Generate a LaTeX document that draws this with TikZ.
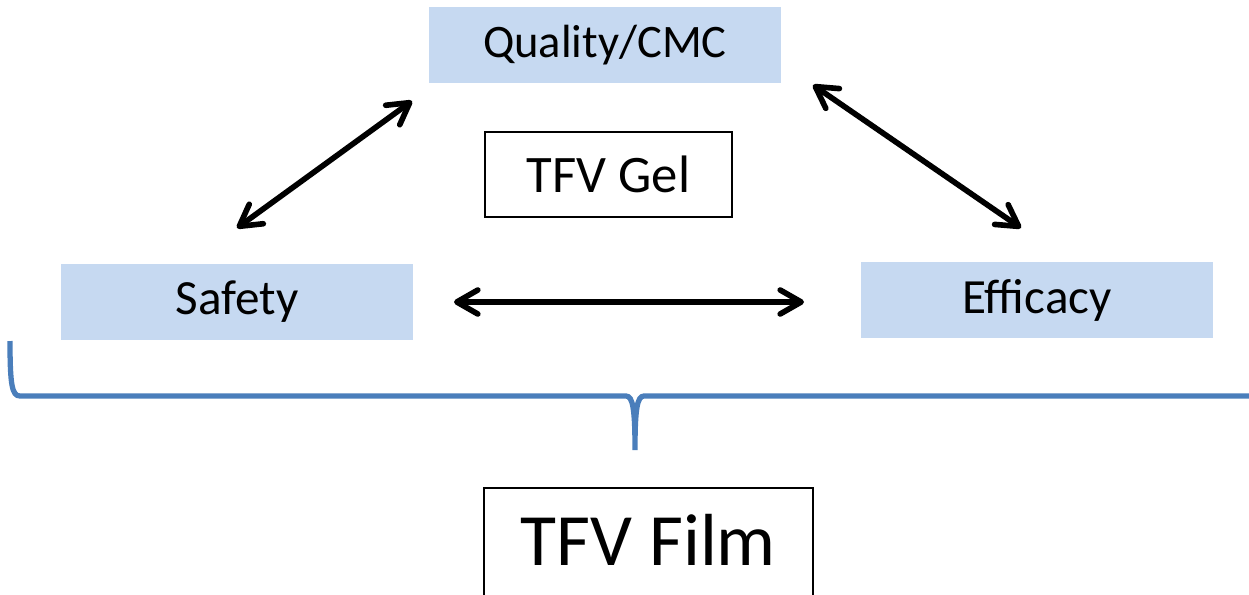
\documentclass[tikz,border=0pt]{standalone}
\usepackage{fontspec}
\setmainfont{Carlito}
\usetikzlibrary{arrows.meta}
\definecolor{boxblue}{RGB}{198,217,241}
\definecolor{braceblue}{RGB}{74,126,187}

\begin{document}
\begin{tikzpicture}[x=0.02cm,y=-0.02cm,
    area/.style={fill=boxblue,minimum width=7.04cm,minimum height=1.54cm,inner sep=0pt},
    form/.style={draw,line width=1.1pt,inner sep=0pt},
    link/.style={{Straight Barb[round,length=0.42cm,width=0.48cm]}-{Straight Barb[round,length=0.42cm,width=0.48cm]},
      line width=3.2pt,line cap=round}]
  \useasboundingbox (0,0) rectangle (1249,595);
  \clip (0,0) rectangle (1249,595);
  \node[area,font=\fontsize{26.5}{30}\selectfont] (quality) at (605,45) {Quality/CMC};
  \node[area,font=\fontsize{28}{32}\selectfont] (safety) at (237,302) {Safety};
  \node[area,font=\fontsize{28}{32}\selectfont] (efficacy) at (1037,300) {Efficacy};
  \node[form,minimum width=4.94cm,minimum height=1.7cm,font=\fontsize{30}{34}\selectfont] (gel) at (608.5,174.5) {TFV Gel};
  \node[form,anchor=north,minimum width=6.58cm,minimum height=2.46cm,text height=1.04cm,text depth=0.38cm,
    font=\fontsize{42}{48}\selectfont] (film) at (648.5,487) {TFV Film};
  % ends of the arrows
  \coordinate (sq1) at (237,228);
  \coordinate (sq2) at (412,101);
  \coordinate (qe1) at (813,85);
  \coordinate (qe2) at (1021,228);
  \coordinate (se1) at (454,302);
  \coordinate (se2) at (804,302);
  \draw[link] (sq1) -- (sq2);
  \draw[link] (qe1) -- (qe2);
  \draw[link] (se1) -- (se2);
  % brace
  \draw[braceblue,line width=3pt] (10,341) .. controls (10,385) and (12,396) .. (20,396) -- (626,396)
    .. controls (633,396) and (635,410) .. (635,450) .. controls (635,410) and (637,396) .. (644,396) -- (1260,396);
\end{tikzpicture}
\end{document}
